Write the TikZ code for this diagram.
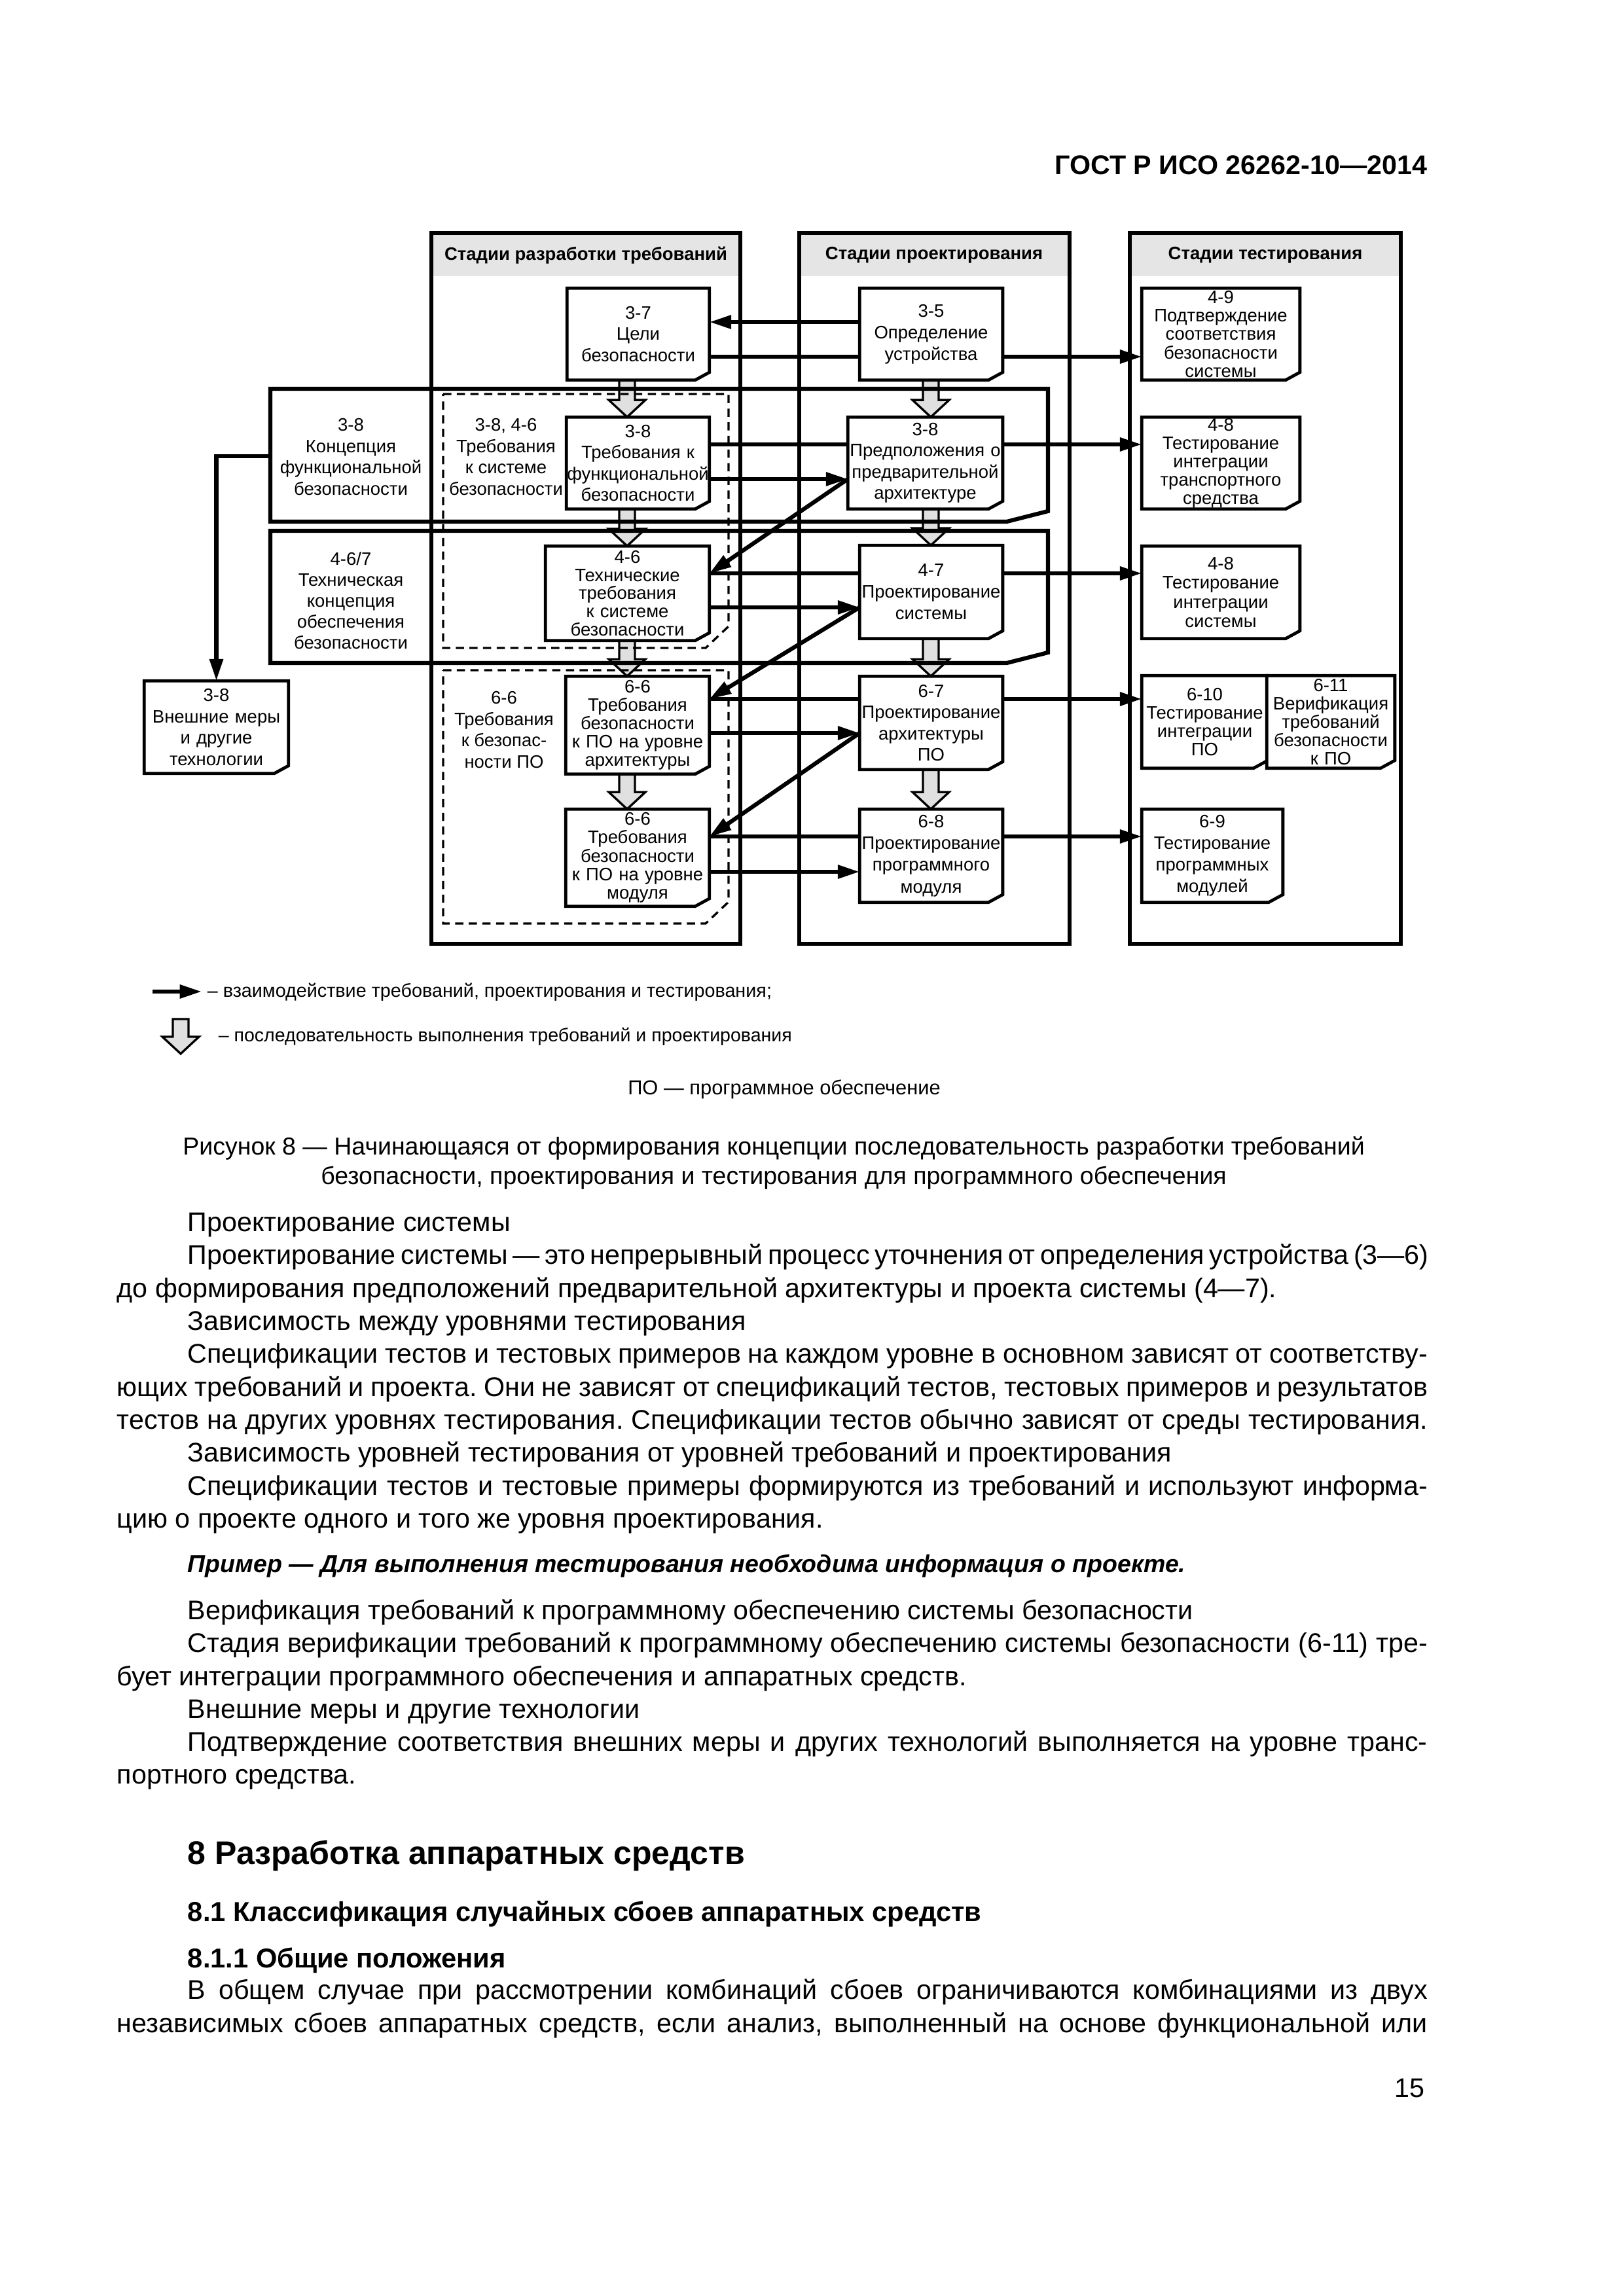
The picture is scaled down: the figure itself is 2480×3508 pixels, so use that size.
\documentclass[tikz,border=0pt]{standalone}
\usepackage{fontspec}
\setmainfont{Liberation Sans}
\usetikzlibrary{arrows.meta,calc}
\pgfdeclarelayer{bg}\pgfdeclarelayer{mid}\pgfsetlayers{bg,mid,main}
\definecolor{seqgray}{gray}{0.88}
\definecolor{hdrgray}{gray}{0.9}
\tikzset{
 docbox/.style={rectangle, fill=white, inner sep=0pt, align=center},
 boxline/.style={line width=1.15pt, line join=miter},
 colline/.style={line width=1.5pt},
 bandline/.style={line width=1.5pt, line join=miter},
 dashline/.style={line width=0.8pt, dash pattern=on 3pt off 2pt},
 conn/.style={line width=1.5pt, -{Triangle[length=8pt,width=4.8pt]}},
 seq/.style={line width=0.8pt, fill=seqgray, draw=black, line join=miter},
 lbl/.style={inner sep=0pt, align=center},
 hdr/.style={inner sep=0pt, font=\bfseries\fontsize{6.6pt}{7.9pt}\selectfont},
 txt/.style={inner sep=0pt, anchor=base west},
}
\newcommand\bodyfs{\fontsize{9.9pt}{12pt}\selectfont}
\newcommand\docnode[7]{%
 \pgfmathsetlengthmacro\dnw{(#4-#2)*0.24pt}%
 \pgfmathsetlengthmacro\dnh{(#5-#3)*0.24pt}%
 \node[docbox, text width=\dnw, minimum height=\dnh, font=\fontsize{6.6pt}{#6pt}\selectfont] (#1) at ({(#2+#4)/2},{(#3+#5)/2}) {#7};
 \draw[boxline] (#1.north west) -- (#1.north east) -- ([shift={(0,-12)}]#1.south east) -- ([shift={(-22,0)}]#1.south east) -- (#1.south west) -- cycle;}
\newcommand\seqarrow[2]{%
 \filldraw[seq] let \p1=#1, \p2=#2 in
 (\x1-2.88pt,\y1) -- (\x1-2.88pt,\y2+6.24pt) -- (\x1-6.72pt,\y2+6.24pt) -- (\x1,\y2) -- (\x1+6.72pt,\y2+6.24pt) -- (\x1+2.88pt,\y2+6.24pt) -- (\x1+2.88pt,\y1) -- cycle;}
\newcommand\bl[4]{\node[txt, font=\bodyfs] (#1) at (#2,#3) {#4};}
\newcommand\bj[4]{%
 \pgfmathsetlengthmacro\bjw{(2180-#2)*0.24pt}%
 \node[txt, font=\bodyfs] (#1) at (#2,#3) {\makebox[\bjw][s]{#4}};}
\frenchspacing
\begin{document}
\frenchspacing
\begin{tikzpicture}[x=0.24pt, y=-0.24pt]
\useasboundingbox (0,0) rectangle (2480,3508);
\begin{pgfonlayer}{bg}
\fill[white] (0,0) rectangle (2480,3508);
\fill[hdrgray] (659,356) rectangle (1131,422);
\fill[hdrgray] (1221,356) rectangle (1634,422);
\fill[hdrgray] (1726,356) rectangle (2140,422);
\draw[colline] (659,356) rectangle (1131,1442);
\draw[colline] (1221,356) rectangle (1634,1442);
\draw[colline] (1726,356) rectangle (2140,1442);
\end{pgfonlayer}

% page header
\node[txt, anchor=base east, font=\bfseries\fontsize{9.9pt}{12pt}\selectfont] (gost) at (2181,267) {ГОСТ Р ИСО 26262-10—2014};

% column headers
\node[hdr] (h1) at (895,390) {Стадии разработки требований};
\node[hdr] (h2) at (1427,390) {Стадии проектирования};
\node[hdr] (h3) at (1933,390) {Стадии тестирования};

% labels
\node[lbl, font=\fontsize{6.6pt}{7.9pt}\selectfont] (lb1) at (536,698) {3-8\\Концепция\\функциональной\\безопасности};
\node[lbl, font=\fontsize{6.6pt}{7.7pt}\selectfont] (lb2) at (536,918) {4-6/7\\Техническая\\концепция\\обеспечения\\безопасности};
\node[lbl, font=\fontsize{6.6pt}{7.9pt}\selectfont] (ld1) at (773,698) {3-8, 4-6\\Требования\\к системе\\безопасности};
\node[lbl, font=\fontsize{6.6pt}{7.9pt}\selectfont] (ld2) at (770,1115) {6-6\\Требования\\к безопас-\\ности ПО};

% requirement boxes
\docnode{b37}{867}{441}{1083}{580}{7.9}{3-7\\Цели\\безопасности}
\docnode{b38f}{866}{638}{1083}{777}{7.8}{3-8\\Требования к\\функциональной\\безопасности}
\docnode{b46}{834}{835}{1083}{978}{6.7}{4-6\\Технические\\требования\\к системе\\безопасности}
\docnode{b66a}{865}{1034}{1083}{1182}{6.7}{6-6\\Требования\\безопасности\\к ПО на уровне\\архитектуры}
\docnode{b66m}{865}{1237}{1083}{1384}{6.8}{6-6\\Требования\\безопасности\\к ПО на уровне\\модуля}
\docnode{bext}{221}{1041}{440}{1181}{7.9}{3-8\\Внешние меры\\и другие\\технологии}
% design boxes
\docnode{b35}{1314}{441}{1531}{580}{7.9}{3-5\\Определение\\устройства}
\docnode{bpred}{1296}{638}{1531}{777}{7.8}{3-8\\Предположения о\\предварительной\\архитектуре}
\docnode{b47}{1314}{834}{1531}{975}{7.9}{4-7\\Проектирование\\системы}
\docnode{b67}{1314}{1034}{1531}{1175}{7.7}{6-7\\Проектирование\\архитектуры\\ПО}
\docnode{b68}{1314}{1237}{1531}{1378}{8.0}{6-8\\Проектирование\\программного\\модуля}
% testing boxes
\docnode{b49}{1745}{441}{1985}{580}{6.8}{4-9\\Подтверждение\\соответствия\\безопасности\\системы}
\docnode{b48v}{1745}{638}{1985}{777}{6.7}{4-8\\Тестирование\\интеграции\\транспортного\\средства}
\docnode{b48s}{1745}{835}{1985}{975}{7.0}{4-8\\Тестирование\\интеграции\\системы}
\docnode{b610}{1745}{1033}{1936}{1173}{6.7}{6-10\\Тестирование\\интеграции\\ПО}
\docnode{b611}{1936}{1033}{2130}{1173}{6.7}{6-11\\Верификация\\требований\\безопасности\\к ПО}
\docnode{b69}{1745}{1237}{1959}{1378}{7.9}{6-9\\Тестирование\\программных\\модулей}

% helper coordinates
\coordinate (c1x) at (958,0);
\coordinate (c2x) at (1422,0);
\coordinate (y492) at (0,492);
\coordinate (y545) at (0,545);
\coordinate (y679) at (0,679);
\coordinate (y732) at (0,732);
\coordinate (y876) at (0,876);
\coordinate (y928) at (0,928);
\coordinate (y1068) at (0,1068);
\coordinate (y1120) at (0,1120);
\coordinate (y1278) at (0,1278);
\coordinate (y1332) at (0,1332);
\coordinate (band1w) at (413,697);

\begin{pgfonlayer}{bg}
% sequence arrows
\seqarrow{(c1x |- b37.south)}{(c1x |- b38f.north)}
\seqarrow{(c1x |- b38f.south)}{(c1x |- b46.north)}
\seqarrow{(c1x |- b46.south)}{(c1x |- b66a.north)}
\seqarrow{(c1x |- b66a.south)}{(c1x |- b66m.north)}
\seqarrow{(c2x |- b35.south)}{(c2x |- bpred.north)}
\seqarrow{(c2x |- bpred.south)}{(c2x |- b47.north)}
\seqarrow{(c2x |- b47.south)}{(c2x |- b67.north)}
\seqarrow{(c2x |- b67.south)}{(c2x |- b68.north)}
% bands
\draw[bandline] (413,594) -- (1601,594) -- (1601,781) -- (1538,797) -- (413,797) -- cycle;
\draw[bandline] (413,811) -- (1601,811) -- (1601,997) -- (1538,1013) -- (413,1013) -- cycle;
% dashed groups
\draw[dashline] (677,602) -- (1113,602) -- (1113,957) -- (1078,990) -- (677,990) -- cycle;
\draw[dashline] (677,1024) -- (1113,1024) -- (1113,1378) -- (1078,1411) -- (677,1411) -- cycle;
\end{pgfonlayer}

\begin{pgfonlayer}{mid}
\draw[conn] (b35.west |- y492) -- (b37.east |- y492);
\draw[conn] (b37.east |- y545) -- (b49.west |- y545);
\draw[conn] (b38f.east |- y679) -- (b48v.west |- y679);
\draw[conn] (b38f.east |- y732) -- (bpred.west |- y732);
\draw[conn] (bpred.west |- y732) -- (b46.east |- y876);
\draw[conn] (b46.east |- y876) -- (b48s.west |- y876);
\draw[conn] (b46.east |- y928) -- (b47.west |- y928);
\draw[conn] (b47.west |- y928) -- (b66a.east |- y1068);
\draw[conn] (b66a.east |- y1068) -- (b610.west |- y1068);
\draw[conn] (b66a.east |- y1120) -- (b67.west |- y1120);
\draw[conn] (b67.west |- y1120) -- (b66m.east |- y1278);
\draw[conn] (b66m.east |- y1278) -- (b69.west |- y1278);
\draw[conn] (b66m.east |- y1332) -- (b68.west |- y1332);
\draw[conn] (band1w) -| (bext.north);
\end{pgfonlayer}

% legend
\coordinate (lga) at (233,1515);
\coordinate (lgb) at (308,1515);
\draw[conn] (lga) -- (lgb);
\node[txt, font=\fontsize{6.9pt}{8pt}\selectfont] (lgt1) at (316,1523) {– взаимодействие требований, проектирования и тестирования;};
\coordinate (lgc) at (276,1557);
\coordinate (lgd) at (276,1610);
\seqarrow{(lgc)}{(lgd)}
\node[txt, font=\fontsize{6.85pt}{8pt}\selectfont] (lgt2) at (333,1591) {– последовательность выполнения требований и проектирования};

% caption
\node[inner sep=0pt, anchor=base, font=\fontsize{7.4pt}{9pt}\selectfont] (po) at (1198,1672) {ПО — программное обеспечение};
\node[inner sep=0pt, anchor=base, font=\fontsize{9pt}{11pt}\selectfont] (cap1) at (1182,1764) {Рисунок 8 — Начинающаяся от формирования концепции последовательность разработки требований};
\node[inner sep=0pt, anchor=base, font=\fontsize{9pt}{11pt}\selectfont] (cap2) at (1182,1809) {безопасности, проектирования и тестирования для программного обеспечения};

% body text
\bl{t1}{286}{1881}{Проектирование системы}
\bj{t2}{286}{1931}{Проектирование системы — это непрерывный процесс уточнения от определения устройства (3—6)}
\bl{t3}{178}{1982}{до формирования предположений предварительной архитектуры и проекта системы (4—7).}
\bl{t4}{286}{2032}{Зависимость между уровнями тестирования}
\bj{t5}{286}{2082}{Спецификации тестов и тестовых примеров на каждом уровне в основном зависят от соответству-}
\bj{t6}{178}{2133}{ющих требований и проекта. Они не зависят от спецификаций тестов, тестовых примеров и результатов}
\bj{t7}{178}{2183}{тестов на других уровнях тестирования. Спецификации тестов обычно зависят от среды тестирования.}
\bl{t8}{286}{2233}{Зависимость уровней тестирования от уровней требований и проектирования}
\bj{t9}{286}{2284}{Спецификации тестов и тестовые примеры формируются из требований и используют информа-}
\bl{t10}{178}{2334}{цию о проекте одного и того же уровня проектирования.}
\node[txt, font=\bfseries\itshape\fontsize{9pt}{12pt}\selectfont] (t11) at (286,2402) {Пример — Для выполнения тестирования необходима информация о проекте.};
\bl{t12}{286}{2474}{Верификация требований к программному обеспечению системы безопасности}
\bj{t13}{286}{2524}{Стадия верификации требований к программному обеспечению системы безопасности (6-11) тре-}
\bl{t14}{178}{2575}{бует интеграции программного обеспечения и аппаратных средств.}
\bl{t15}{286}{2625}{Внешние меры и другие технологии}
\bj{t16}{286}{2675}{Подтверждение соответствия внешних меры и других технологий выполняется на уровне транс-}
\bl{t17}{178}{2725}{портного средства.}
\node[txt, font=\bfseries\fontsize{12pt}{14pt}\selectfont] (s1) at (286,2848) {8 Разработка аппаратных средств};
\node[txt, font=\bfseries\fontsize{10pt}{12pt}\selectfont] (s2) at (286,2935) {8.1 Классификация случайных сбоев аппаратных средств};
\node[txt, font=\bfseries\fontsize{10pt}{12pt}\selectfont] (s3) at (286,3006) {8.1.1 Общие положения};
\bj{t18}{286}{3054}{В общем случае при рассмотрении комбинаций сбоев ограничиваются комбинациями из двух}
\bj{t19}{178}{3105}{независимых сбоев аппаратных средств, если анализ, выполненный на основе функциональной или}
\node[txt, anchor=base east, font=\bodyfs] (pg) at (2177,3204) {15};
\end{tikzpicture}
\end{document}
